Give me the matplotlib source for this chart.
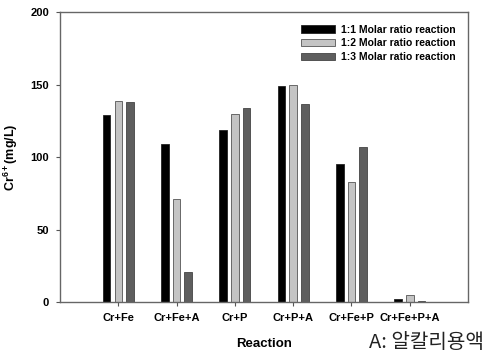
import numpy as np
import matplotlib
matplotlib.use('Agg')
import matplotlib.pyplot as plt

reactions = ['Cr+Fe', 'Cr+Fe+A', 'Cr+P', 'Cr+P+A', 'Cr+Fe+P', 'Cr+Fe+P+A']
ratio_1_1 = [129, 109, 119, 149, 95.5, 2]
ratio_1_2 = [139, 71, 129.5, 149.5, 83, 5]
ratio_1_3 = [138, 21, 134, 136.5, 107, 1]
series_names = ['1:1 Molar ratio reaction', '1:2 Molar ratio reaction', '1:3 Molar ratio reaction']

plt.rcParams['font.family'] = ['Liberation Sans', 'DejaVu Sans']
plt.rcParams['mathtext.fontset'] = 'custom'
plt.rcParams['mathtext.bf'] = 'Liberation Sans:bold'
plt.rcParams['mathtext.rm'] = 'Liberation Sans:bold'

fig = plt.figure(figsize=(4.86, 3.57), dpi=100)
ax = fig.add_axes([0.1235, 0.154, 0.8395, 0.812])

x = np.arange(1, len(reactions) + 1)
w = 0.13
step = 0.2
ax.bar(x - step, ratio_1_1, w, color='black', edgecolor='#222222', linewidth=0.6, label=series_names[0])
ax.bar(x, ratio_1_2, w, color='#c4c4c4', edgecolor='#555555', linewidth=0.6, label=series_names[1])
ax.bar(x + step, ratio_1_3, w, color='#5e5e5e', edgecolor='#444444', linewidth=0.6, label=series_names[2])

ax.set_xlim(0, 7)
ax.set_ylim(0, 200)
ax.set_yticks([0, 50, 100, 150, 200])
ax.set_xticks(x)
ax.set_xticklabels(reactions)
for lab in ax.get_xticklabels() + ax.get_yticklabels():
    lab.set_fontweight('bold')
    lab.set_fontsize(8)
ax.tick_params(direction='out', length=3, width=0.8, color='#555555', pad=5)

for s in ax.spines.values():
    s.set_color('#666666')
    s.set_linewidth(1.0)

ax.set_ylabel('$\\mathbf{Cr^{6+}(mg/L)}$', fontsize=9, labelpad=7)
ax.set_xlabel('Reaction', fontsize=9.5, fontweight='bold', labelpad=11)

leg = ax.legend(loc='upper right', frameon=False, fontsize=7.5, handlelength=3.2, handleheight=0.7,
                labelspacing=0.35, borderaxespad=0.8, handletextpad=0.6)
for t in leg.get_texts():
    t.set_fontweight('bold')

fig.text(0.995, 0.01, 'A: 알칼리용액', ha='right', va='bottom', fontsize=14.5,
         family=['Noto Sans CJK KR', 'DejaVu Sans'], color='#222222')

fig.savefig('out.png', dpi=100)
